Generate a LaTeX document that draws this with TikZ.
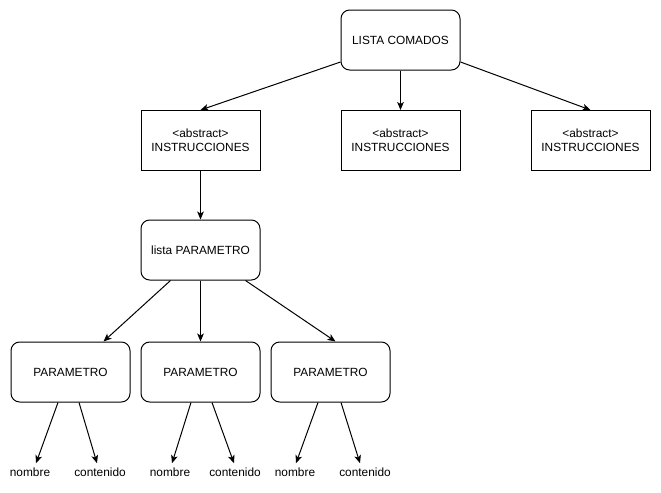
\documentclass[tikz,border=0pt]{standalone}
\usepackage{fontspec}
\setmainfont{Liberation Sans}
\usetikzlibrary{arrows.meta,calc}
\begin{document}
\begin{tikzpicture}[x=0.75pt,y=-0.75pt,
  font=\fontsize{8.9pt}{10.5pt}\selectfont,
  rbox/.style={draw,line width=0.75pt,rounded corners=6.5pt,minimum width=89.25pt,minimum height=45pt,inner sep=0pt,align=center},
  sbox/.style={draw,line width=0.75pt,minimum width=89.25pt,minimum height=45pt,inner sep=0pt,align=center},
  leaf/.style={inner sep=0pt,minimum height=9pt},
  arr/.style={line width=0.75pt,-{Stealth[length=6pt,width=5pt,inset=1.5pt]}}]
\useasboundingbox (0,0) rectangle (661,493);
\node[rbox] (lc) at (400.5,40) {LISTA COMADOS};
\node[sbox] (i1) at (200.5,140.5) {<abstract>\\INSTRUCCIONES};
\node[sbox] (i2) at (400.5,140.5) {<abstract>\\INSTRUCCIONES};
\node[sbox] (i3) at (590.5,140.5) {<abstract>\\INSTRUCCIONES};
\node[rbox] (lp) at (200.5,250) {lista PARAMETRO};
\node[rbox] (p1) at (70.5,372) {PARAMETRO};
\node[rbox] (p2) at (200.5,372) {PARAMETRO};
\node[rbox] (p3) at (330.5,372) {PARAMETRO};
\node[leaf] (n1) at (30,472.5) {nombre};
\node[leaf] (c1) at (100,472.5) {contenido};
\node[leaf] (n2) at (170,472.5) {nombre};
\node[leaf] (c2) at (235,472.5) {contenido};
\node[leaf] (n3) at (295,472.5) {nombre};
\node[leaf] (c3) at (365,472.5) {contenido};
\draw[arr] ($(lc.west)+(0,22)$) -- (i1.north);
\draw[arr] (lc.south) -- (i2.north);
\draw[arr] ($(lc.east)+(0,22)$) -- (i3.north);
\draw[arr] (i1.south) -- (lp.north);
\draw[arr] ($(lp.south)+(-30,0)$) -- ($(p1.north)+(33,0)$);
\draw[arr] (lp.south) -- (p2.north);
\draw[arr] ($(lp.south)+(45,0)$) -- ($(p3.north)+(5,0)$);
\draw[arr] ($(p1.south)+(-12.5,0)$) -- ($(n1.north)+(6,-3)$);
\draw[arr] ($(p1.south)+(8.5,0)$) -- ($(c1.north)+(-3,-3)$);
\draw[arr] ($(p2.south)+(-9.5,0)$) -- ($(n2.north)+(2,-3)$);
\draw[arr] ($(p2.south)+(11.5,0)$) -- ($(c2.north)+(-1,-3)$);
\draw[arr] ($(p3.south)+(-12.5,0)$) -- ($(n3.north)+(1,-3)$);
\draw[arr] ($(p3.south)+(10.5,0)$) -- ($(c3.north)+(-5,-3)$);
\end{tikzpicture}
\end{document}
